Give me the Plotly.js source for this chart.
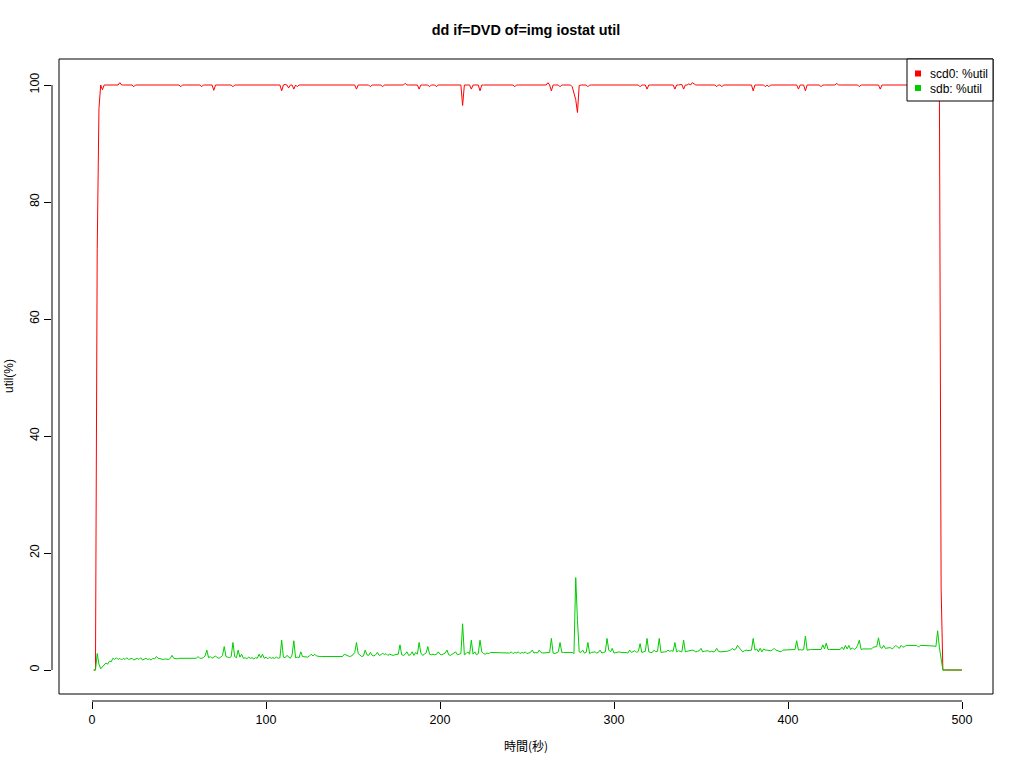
<!DOCTYPE html>
<html><head><meta charset="utf-8">
<script src="https://cdn.plot.ly/plotly-3.0.1.min.js"></script>
<style>html,body{margin:0;padding:0;background:#fff}#chart{width:1024px;height:768px}</style>
</head><body><div id="chart"></div>
<script>
const chartTitle = 'dd if=DVD of=img iostat util';
const xAxisLabel = '時間(秒)';
const yAxisLabel = 'util(%)';
const seriesNames = ['scd0: %util', 'sdb: %util'];
const seriesColors = ['#FF0000', '#00CD00'];
const xTickValues = [0, 100, 200, 300, 400, 500];
const yTickValues = [0, 20, 40, 60, 80, 100];
const firstSecond = 1;

const scd0Util = [
0,0,72,96,100,99.2,100,100,100,100,
100,100,100,100,100,100.4,100,100,100,100,
100,100,100,99.7,100,100,100,100,100,100,
100,100,100,100,100,100,100,100,100,100,
100,100,100,100,100,100,100,100,100,100,
99.7,100,100,100,100,100,100,100,100,100,
100,100,99.7,100,100,100,100,100,100,99.1,
100,100,100,100,100,100,100,100,100,100,
99.7,100,100,100,100,100,100,100,100,100,
100,100,100,100,100,100,100,100,100,100,
100,100,100,100,100,100,100,100,99.0,100,
100.1,100,99.5,100,100,99.3,100,99.7,100,100,
100,100,100,100,100,100,100,100,100,100,
100,100,100,100,100,100,100,100,100,100,
100,100,100,100,100,100,100,100,100,100,
100,99.3,100,100,100,100,100,100,100,99.7,
100,100,100,100,100,100,99.7,100,100,100,
100,100,100,100,100,100,100,100,100,100.3,
100,100,100,100,100,100,100,99.3,100,100,
100,100,100,99.7,100,100,100,99.7,100,100,
100,100,100,100,100,100,100,100,100,100,
100,100,96.5,100,100,100,100,99.3,100,100,
100,100,99.0,100,100,100,100,100,100,100,
100,100,100,100,100,100,100,100,100,100,
100,100,99.7,100,100,100,100,100,100,100,
100,100,100,100,100,100,100,100,100,100,
100,100.4,100,99.0,100,100,100,100,99.7,100,
100,100,100,100,100,99.7,98.7,97.5,95.3,99.9,
100,100,100,100,99.7,100,100,100,100,100,
100,100,100,100,100,100,100,100,100,100,
100,100,100,100,100,100,100,100,100,100,
100,100,100,100,99.7,100,100,100,99.3,100,
100,100,100,100,100,100,100,100,100,100,
100,100,100,100,99.3,100,100,100,100.1,99.3,
100,100,100.2,100,100.4,100.2,100,100,100,100,
100,100,100,100,100,100,100,100,99.7,100,
100,99.7,100,100,100,100,100,100,100,100,
100,100,100,100,100,100,100,100,100,99.0,
100,100,100,100,100,100,99.7,100,99.7,100,
100,100,100,100,100,100,100,100,100,100,
100,100,100,100,100,99.3,100,100,100,99.0,
100,100,100,100,100,100,100,100,99.7,100,
100,100,100,100,100,100,100,100.3,100,100,
100,100,100,100,100,100,100,100,100,100,
99.7,100,100,100,100,100,100,100,100,100,
100,100,99.3,100,100,100,100,100,100,100,
100,100,100,100,100,100,100,100,100,100,
100,100,100,100,100,100,100,100,100,100,
100,100,100,100,100,100,100,14,0,0,
0,0,0,0,0,0,0,0,0,0
];

const sdbUtil = [
0,0,2.8,1.0,0.2,0.5,0.8,1.2,1.0,1.5,
1.4,2.0,1.8,2.1,1.8,2.0,1.7,2.0,1.8,2.1,
1.8,1.9,2.0,1.7,1.9,2.0,1.8,2.1,1.7,1.9,
2.0,1.8,1.9,1.7,2.0,1.9,2.3,2.0,1.9,1.9,
1.8,1.9,1.9,1.8,2.0,2.5,2.0,1.9,1.9,2.0,
2.0,2.0,2.0,2.0,2.0,2.0,2.0,2.0,2.0,2.0,
2.3,2.0,2.0,2.1,2.4,3.4,2.1,2.3,2.0,2.2,
2.4,2.1,2.0,2.2,2.5,4.0,2.3,2.2,2.1,2.3,
4.7,2.3,2.1,3.4,2.2,2.7,2.0,2.1,1.9,2.2,
2.0,2.1,1.9,2.1,2.0,2.7,2.1,2.7,2.0,2.2,
1.9,2.2,2.0,2.1,2.0,2.2,2.0,2.1,5.1,2.2,
2.1,2.5,2.2,2.0,2.6,5.0,2.1,2.2,2.1,3.1,
2.3,2.3,2.3,2.2,2.4,2.7,2.4,2.7,2.4,2.3,
2.3,2.3,2.3,2.3,2.3,2.3,2.3,2.3,2.3,2.3,
2.3,2.3,2.3,2.3,2.7,2.6,2.5,2.3,2.4,2.6,
3.0,4.7,2.8,2.5,2.3,2.4,3.4,2.6,2.5,3.0,
2.5,2.4,2.6,3.0,2.5,2.6,2.9,2.6,2.8,2.5,
2.7,2.6,2.5,2.6,2.6,2.7,4.3,2.6,2.5,2.7,
3.1,2.5,2.6,3.1,2.5,3.0,2.7,4.7,2.9,2.5,
2.7,2.9,4.0,2.7,2.6,2.7,2.6,2.7,3.1,2.7,
2.6,2.7,2.9,3.4,2.6,2.5,2.7,2.8,3.1,2.6,
2.7,2.8,7.9,2.6,2.8,3.1,2.7,5.1,2.7,3.1,
2.6,2.8,5.1,3.1,2.8,2.7,2.9,2.8,3.0,3.0,
3.0,3.0,3.0,3.0,3.0,3.0,3.0,3.0,3.0,2.9,
3.1,2.8,3.0,2.9,3.1,2.8,3.0,2.9,3.1,2.8,
2.9,3.0,3.4,2.9,3.0,2.9,3.4,3.0,2.9,2.9,
2.9,2.9,3.0,5.4,2.9,2.8,3.0,3.1,4.7,3.0,
3.0,3.0,3.0,3.0,3.0,3.0,2.8,15.8,8.5,3.1,
3.0,3.4,2.9,3.0,4.7,2.8,3.0,3.0,3.1,2.9,
3.0,3.4,2.9,3.0,3.1,5.4,3.4,3.1,3.7,2.9,
3.0,3.0,3.1,3.0,3.0,3.1,3.0,2.9,3.4,3.0,
3.1,3.3,3.0,3.2,4.5,3.0,3.1,3.2,5.4,3.1,
3.0,3.0,3.4,3.1,3.2,5.4,3.0,3.1,3.1,3.1,
3.4,3.2,3.3,3.2,4.7,3.1,3.3,3.2,3.1,5.1,
3.1,3.2,3.3,3.3,3.4,3.3,3.1,3.2,3.3,3.7,
3.1,3.2,3.2,3.3,3.1,3.2,3.1,3.2,3.7,3.2,
3.1,3.1,3.1,3.1,3.2,3.3,3.4,3.7,3.4,3.6,
4.2,3.8,3.4,3.1,3.3,3.4,3.3,3.3,3.4,5.4,
3.4,3.6,3.1,3.7,3.1,3.6,3.4,3.4,3.3,3.3,
3.4,3.7,3.4,3.3,3.3,3.1,3.4,3.4,3.4,3.4,
3.4,3.5,3.4,3.5,5.0,3.4,3.5,3.4,3.5,5.8,
3.4,3.5,3.5,3.5,3.5,3.5,3.5,3.5,3.5,4.3,
3.6,4.6,3.5,3.5,3.5,3.5,3.5,3.5,3.5,3.5,
3.9,3.5,4.2,3.6,4.2,3.5,3.8,3.5,3.7,4.2,
5.1,3.5,3.6,3.6,3.6,3.6,3.6,3.6,3.9,3.9,
4.0,5.5,3.9,3.7,4.2,3.7,3.8,3.8,3.8,3.6,
3.9,4.2,3.9,3.7,4.2,3.9,4.0,4.2,4.2,4.2,
4.2,4.2,4.2,4.2,3.9,4.2,4.2,4.2,4.1,4.2,
4.2,4.2,4.2,4.1,4.0,6.7,3.9,2.0,0,0,
0,0,0,0,0,0,0,0,0,0
];

const seconds = scd0Util.map((_, i) => firstSecond + i);

// page geometry (pixels)
const W = 1024, H = 768;
const M = {l: 52, r: 31, t: 59, b: 67};
const PW = W - M.l - M.r, PH = H - M.t - M.b;
const fx = p => (p - M.l) / PW;
const fy = p => (H - M.b - p) / PH;
const FONT = 'Liberation Sans, Arial, sans-serif';

const traces = [scd0Util, sdbUtil].map((vals, k) => ({
  type: 'scatter', mode: 'lines', x: seconds, y: vals, name: seriesNames[k],
  line: {color: seriesColors[k], width: 1}, showlegend: false, hoverinfo: 'skip'
}));

const shapes = [
  {type: 'rect', xref: 'paper', yref: 'paper', x0: fx(59), x1: fx(993), y0: fy(694), y1: fy(59),
   line: {color: '#000', width: 1}},
  {type: 'line', xref: 'x', yref: 'paper', x0: xTickValues[0], x1: xTickValues[xTickValues.length - 1],
   y0: 0, y1: 0, line: {color: '#000', width: 1}},
  {type: 'line', xref: 'paper', yref: 'y', x0: 0, x1: 0, y0: yTickValues[0],
   y1: yTickValues[yTickValues.length - 1], line: {color: '#000', width: 1}},
  {type: 'rect', xref: 'paper', yref: 'paper', x0: fx(907), x1: fx(993), y0: fy(101), y1: fy(59),
   fillcolor: '#fff', line: {color: '#000', width: 1}, layer: 'above'}
];
const annotations = [];
seriesNames.forEach((nm, k) => {
  const cy = 73.5 + k * 14.5;
  shapes.push({type: 'rect', xref: 'paper', yref: 'paper', x0: fx(915), x1: fx(921),
    y0: fy(cy + 3), y1: fy(cy - 3), fillcolor: seriesColors[k], line: {width: 0}, layer: 'above'});
  annotations.push({text: nm, xref: 'paper', yref: 'paper', x: fx(927.5), y: fy(cy + 0.5),
    xanchor: 'left', yanchor: 'middle', showarrow: false,
    font: {family: FONT, size: 12, color: '#000'}});
});
annotations.push({text: xAxisLabel, xref: 'paper', yref: 'paper', x: fx(526), y: fy(745),
  xanchor: 'center', yanchor: 'middle', showarrow: false,
  font: {family: 'Noto Sans CJK JP, sans-serif', size: 12, color: '#000'}});
annotations.push({text: yAxisLabel, xref: 'paper', yref: 'paper', x: fx(9), y: fy(376),
  xanchor: 'center', yanchor: 'middle', textangle: -90, showarrow: false,
  font: {family: FONT, size: 12, color: '#000'}});

const axisCommon = {
  showgrid: false, zeroline: false, showline: false, ticks: 'outside', ticklen: 7,
  tickwidth: 1, tickcolor: '#000', tickmode: 'array',
  tickfont: {family: FONT, size: 12.5, color: '#000'}, fixedrange: true
};

const layout = {
  width: W, height: H, margin: M, paper_bgcolor: '#fff', plot_bgcolor: '#fff',
  showlegend: false,
  title: {text: '<b>' + chartTitle + '</b>', x: 526 / W, xref: 'container', xanchor: 'center',
    y: 1 - 30 / H, yref: 'container', yanchor: 'middle',
    font: {family: FONT, size: 14.4, color: '#000'}},
  xaxis: Object.assign({}, axisCommon, {range: [(M.l - 92) / 1.74, (W - M.r - 92) / 1.74],
    tickvals: xTickValues, ticktext: xTickValues.map(String)}),
  yaxis: Object.assign({}, axisCommon, {range: [(670 - (H - M.b)) / 5.85, (670 - M.t) / 5.85],
    tickvals: yTickValues, ticktext: yTickValues.map(String), tickangle: -90}),
  shapes: shapes, annotations: annotations
};

Plotly.newPlot('chart', traces, layout, {staticPlot: true, displayModeBar: false});
</script>
</body></html>
